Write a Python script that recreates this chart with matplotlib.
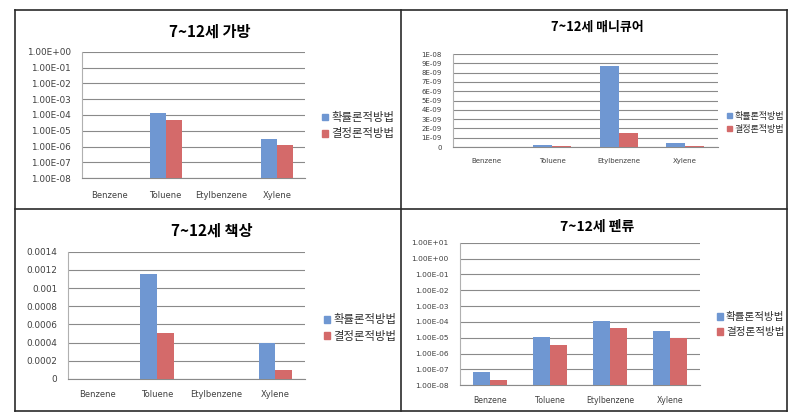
import numpy as np
import matplotlib
matplotlib.use("Agg")
import matplotlib.pyplot as plt
from matplotlib.patches import Patch
from matplotlib.lines import Line2D

plt.rcParams['font.family'] = ['Noto Sans CJK KR', 'DejaVu Sans']

W, H = 803, 417

categories = ["Benzene", "Toluene", "Etylbenzene", "Xylene"]
series_names = ["확률론적방법", "결정론적방법"]
colors = ["#6f97d2", "#d46a6a"]

# Panel 1: 가방 (log)
bag_prob = [np.nan, 1.3e-4, np.nan, 3.0e-6]
bag_det = [np.nan, 5.0e-5, np.nan, 1.2e-6]
bag_ticks = [1e-8, 1e-7, 1e-6, 1e-5, 1e-4, 1e-3, 1e-2, 1e-1, 1e0]
bag_ticklabels = ["1.00E-08", "1.00E-07", "1.00E-06", "1.00E-05", "1.00E-04",
                  "1.00E-03", "1.00E-02", "1.00E-01", "1.00E+00"]

# Panel 2: 매니큐어 (linear)
mani_prob = [0.0, 2.2e-10, 8.7e-9, 4.3e-10]
mani_det = [0.0, 1.0e-10, 1.47e-9, 1.0e-10]
mani_ticks = [i * 1e-9 for i in range(11)]
mani_ticklabels = ["0", "1E-09", "2E-09", "3E-09", "4E-09", "5E-09", "6E-09",
                   "7E-09", "8E-09", "9E-09", "1E-08"]

# Panel 3: 책상 (linear)
desk_prob = [0.0, 0.00116, 0.0, 0.0004]
desk_det = [0.0, 0.00051, 0.0, 0.0001]
desk_ticks = [0, 0.0002, 0.0004, 0.0006, 0.0008, 0.001, 0.0012, 0.0014]
desk_ticklabels = ["0", "0.0002", "0.0004", "0.0006", "0.0008", "0.001", "0.0012", "0.0014"]

# Panel 4: 펜류 (log)
pen_prob = [6.6e-8, 1.07e-5, 1.2e-4, 2.8e-5]
pen_det = [2.3e-8, 3.7e-6, 4.3e-5, 9.7e-6]
pen_ticks = [1e-8, 1e-7, 1e-6, 1e-5, 1e-4, 1e-3, 1e-2, 1e-1, 1e0, 1e1]
pen_ticklabels = ["1.00E-08", "1.00E-07", "1.00E-06", "1.00E-05", "1.00E-04",
                  "1.00E-03", "1.00E-02", "1.00E-01", "1.00E+00", "1.00E+01"]

titles = ["7~12세 가방", "7~12세 매니큐어", "7~12세 책상", "7~12세 펜류"]

fig = plt.figure(figsize=(W / 100, H / 100), dpi=100)
fig.patch.set_facecolor("white")


def rect(l, r, t, b):
    return [l / W, 1 - b / H, (r - l) / W, (b - t) / H]


def panel(box, prob, det, ticks, ticklabels, log, title, title_xy,
          leg_xy, tick_fs, cat_fs, leg_fs, title_fs, cat_pad):
    ax = fig.add_axes(rect(*box))
    x = np.arange(len(categories))
    w = 1 / 3.5
    ax.bar(x - w / 2, prob, w, color=colors[0], log=log, zorder=3)
    ax.bar(x + w / 2, det, w, color=colors[1], log=log, zorder=3)
    if log:
        ax.set_yscale("log")
        ax.minorticks_off()
    ax.set_ylim(ticks[0], ticks[-1])
    ax.set_xlim(-0.5, len(categories) - 0.5)
    ax.set_yticks(ticks)
    ax.set_yticklabels(ticklabels, fontsize=tick_fs, color="#404040",
                       family="DejaVu Sans")
    ax.set_xticks(x)
    ax.set_xticklabels(categories, fontsize=cat_fs, color="#404040",
                       family="DejaVu Sans")
    ax.tick_params(axis="y", length=0, pad=8)
    ax.tick_params(axis="x", length=0, pad=cat_pad)
    ax.yaxis.grid(True, color="#8a8a8a", linewidth=0.8, zorder=0)
    for s in ["top", "right"]:
        ax.spines[s].set_visible(False)
    ax.spines["left"].set_color("#b0b0b0")
    ax.spines["left"].set_linewidth(0.8)
    ax.spines["bottom"].set_color("#8a8a8a")
    ax.spines["bottom"].set_linewidth(0.8)
    ax.set_facecolor("none")
    fig.text(title_xy[0] / W, 1 - title_xy[1] / H, title, ha="center",
             va="center", fontsize=title_fs, fontweight="bold")
    handles = [Patch(color=c) for c in colors]
    fig.legend(handles, series_names, loc="center left",
               bbox_to_anchor=(leg_xy[0] / W, 1 - leg_xy[1] / H),
               frameon=False, fontsize=leg_fs, handlelength=0.55,
               handleheight=0.55, handletextpad=0.3, borderpad=0,
               borderaxespad=0, labelspacing=0.45, labelcolor="#303030")
    return ax


panel((82, 305, 51.7, 178.3), bag_prob, bag_det, bag_ticks, bag_ticklabels,
      True, titles[0], (210, 31.5), (322, 125.5), 6.4, 6.0, 8.2, 11, 9)
panel((453, 718, 54, 147), mani_prob, mani_det, mani_ticks, mani_ticklabels,
      False, titles[1], (597, 27), (727, 122.8), 5.0, 5.0, 6.5, 9.3, 8)
panel((68.3, 305, 251.7, 379), desk_prob, desk_det, desk_ticks, desk_ticklabels,
      False, titles[2], (212, 231), (324, 328), 6.4, 6.0, 8.2, 11, 8)
panel((460, 700, 242.7, 385.3), pen_prob, pen_det, pen_ticks, pen_ticklabels,
      True, titles[3], (597, 226.5), (717, 324.7), 5.4, 5.6, 7.6, 10, 8)

# Table-like borders
lc = "#2a2a2a"
for xx in (15.5, 401, 786.7):
    fig.add_artist(Line2D([xx / W, xx / W], [1 - 9.5 / H, 1 - 411 / H],
                          color=lc, linewidth=1.2))
for yy in (9.5, 209, 411):
    fig.add_artist(Line2D([15.5 / W, 786.7 / W], [1 - yy / H, 1 - yy / H],
                          color=lc, linewidth=1.2))

fig.savefig("out.png", dpi=100, facecolor="white")
